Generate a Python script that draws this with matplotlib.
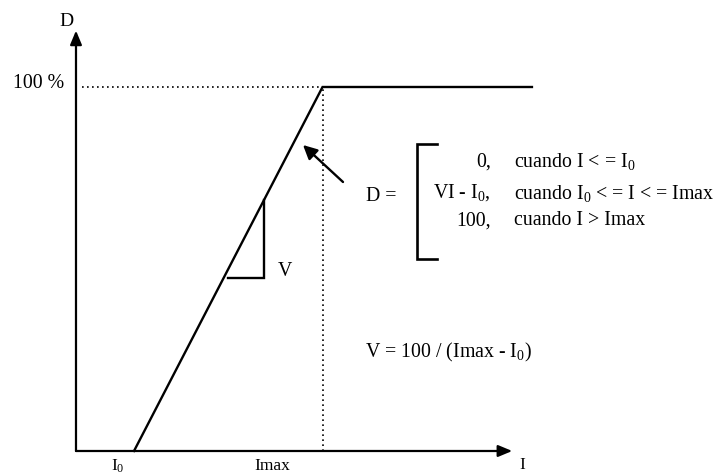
import matplotlib
matplotlib.use("Agg")
import matplotlib.pyplot as plt

plt.rcParams['font.family'] = ['Liberation Serif', 'DejaVu Serif']
plt.rcParams['mathtext.fontset'] = 'custom'
plt.rcParams['mathtext.rm'] = 'Liberation Serif'
plt.rcParams['mathtext.it'] = 'Liberation Serif'

# ---- data (arbitrary current units, D in %) ----
I0 = 1.0
Imax = 4.25
I_axis_end = 7.52
I_plateau_end = 7.86
D_max = 100.0
D_axis_end = 115.5
curve_I = [I0, Imax, I_plateau_end]
curve_D = [0.0, D_max, D_max]
tri_I = [2.62, 3.24]
tri_D_low = 47.5

W, H = 717, 474
fig = plt.figure(figsize=(W / 100, H / 100), dpi=100)
ax = fig.add_axes([0, 0, 1, 1])
ax.set_xlim(-1.310, 11.05)
ax.set_ylim(-6.32, 123.9)
ax.axis('off')

def fp(x, y):
    return (x / W, 1 - y / H)

FT = fig.transFigure
FS = 14.3
FS_AX = 12.5

# axes with arrows
ax.annotate('', xy=(I_axis_end, 0), xytext=(0, 0),
            arrowprops=dict(arrowstyle='-|>,head_length=0.6,head_width=0.25', color='black', lw=1.6,
                            shrinkA=0, shrinkB=0, mutation_scale=14))
ax.annotate('', xy=(0, D_axis_end), xytext=(0, 0),
            arrowprops=dict(arrowstyle='-|>,head_length=0.6,head_width=0.25', color='black', lw=1.6,
                            shrinkA=0, shrinkB=0, mutation_scale=14))

# curve
ax.plot(curve_I, curve_D, color='black', lw=1.7, solid_joinstyle='miter')

# dotted guides
ax.plot([0.1, Imax], [D_max, D_max], color='black', lw=1.2, ls=(0, (1, 2.0)))
ax.plot([Imax, Imax], [0, D_max], color='black', lw=1.2, ls=(0, (1, 2.0)))

# slope triangle
V = D_max / (Imax - I0)
tri_top = V * (tri_I[1] - I0)
ax.plot([tri_I[0], tri_I[1], tri_I[1]], [tri_D_low, tri_D_low, tri_top],
        color='black', lw=1.7, solid_joinstyle='miter')

# arrow pointing at the line
ax.annotate('', xy=fp(303, 145), xytext=fp(343, 182), xycoords=FT, textcoords=FT,
            arrowprops=dict(arrowstyle='-|>,head_length=0.6,head_width=0.3', color='black', lw=1.7,
                            shrinkA=0, shrinkB=0, mutation_scale=14))

# bracket
bx0, bx1, by0, by1 = 417, 437, 144, 259
ax.plot([fp(bx1, by0)[0], fp(bx0, by0)[0], fp(bx0, by1)[0], fp(bx1, by1)[0]],
        [fp(bx1, by0)[1], fp(bx0, by0)[1], fp(bx0, by1)[1], fp(bx1, by1)[1]],
        color='black', lw=1.9, transform=FT, solid_joinstyle='miter')

# texts
fig.text(*fp(66, 22), 'D', fontsize=14, ha='center', va='center')
fig.text(*fp(64, 83), '100 %', fontsize=FS, ha='right', va='center')
fig.text(*fp(118, 466), r'I$_0$', fontsize=FS_AX, ha='center', va='center')
fig.text(*fp(272, 466), 'Imax', fontsize=FS_AX, ha='center', va='center')
fig.text(*fp(522, 465), 'I', fontsize=FS_AX, ha='center', va='center')
fig.text(*fp(285, 272), 'V', fontsize=FS, ha='center', va='center')
fig.text(*fp(381, 197), 'D =', fontsize=FS, ha='center', va='center')

col1 = ['0,', r'VI - I$_0$,', '100,']
col2 = [r'cuando I < = I$_0$', r'cuando I$_0$ < = I < = Imax', 'cuando I > Imax']
rows_y = [162, 193, 221]
for a, b, yy in zip(col1, col2, rows_y):
    fig.text(*fp(491, yy), a, fontsize=FS, ha='right', va='center')
    fig.text(*fp(514, yy), b, fontsize=FS, ha='left', va='center')

fig.text(*fp(365, 352), r'V = 100 / (Imax - I$_0$)', fontsize=FS, ha='left', va='center')

fig.savefig('out.png', dpi=100)
